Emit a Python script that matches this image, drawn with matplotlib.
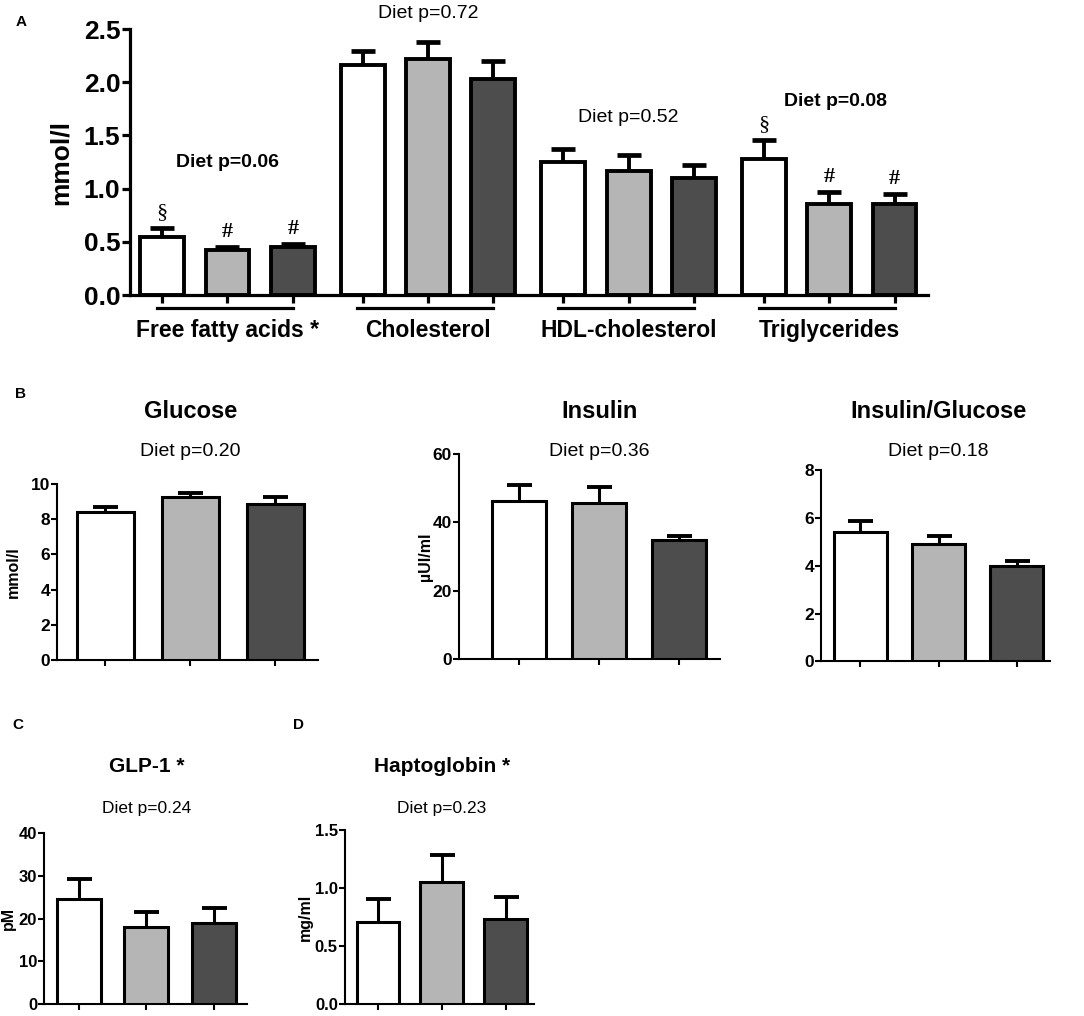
import numpy as np
import matplotlib
matplotlib.use("Agg")
import matplotlib.pyplot as plt
import matplotlib.transforms as mtransforms

plt.rcParams["font.family"] = ["Liberation Sans", "DejaVu Sans"]
SERIF = ["Liberation Serif", "DejaVu Serif"]

colors = ["#ffffff", "#b5b5b5", "#4d4d4d"]

# panel A: lipids (mmol/l), three diets per group
lipid_groups = ["Free fatty acids *", "Cholesterol", "HDL-cholesterol", "Triglycerides"]
lipid_means = [[0.55, 0.42, 0.45],
               [2.16, 2.22, 2.03],
               [1.25, 1.17, 1.10],
               [1.28, 0.86, 0.86]]
lipid_sem = [[0.08, 0.03, 0.03],
             [0.13, 0.16, 0.17],
             [0.12, 0.15, 0.12],
             [0.18, 0.11, 0.09]]
lipid_p = ["Diet p=0.06", "Diet p=0.72", "Diet p=0.52", "Diet p=0.08"]
lipid_p_bold = [True, False, False, True]
lipid_p_y = [1.25, 2.65, 1.67, 1.82]
lipid_marks = [["§", "#", "#"], ["", "", ""], ["", "", ""], ["§", "#", "#"]]

# panel B
glucose_means = [8.4, 9.27, 8.86]
glucose_sem = [0.3, 0.2, 0.42]
insulin_means = [46.2, 45.6, 34.8]
insulin_sem = [4.7, 4.7, 1.2]
ratio_means = [5.4, 4.9, 3.98]
ratio_sem = [0.5, 0.37, 0.24]

# panels C and D
glp1_means = [24.5, 18.0, 18.9]
glp1_sem = [4.9, 3.5, 3.5]
hapto_means = [0.71, 1.05, 0.73]
hapto_sem = [0.2, 0.24, 0.19]

fig = plt.figure(figsize=(10.84, 10.16), dpi=100)


def bars(ax, x, means, sem, lw, capsize, width=0.67):
    ax.bar(x, means, width=width, color=colors, edgecolor="black",
           linewidth=lw, zorder=3)
    eb = ax.errorbar(x, means, yerr=[np.zeros(len(means)), sem], fmt="none",
                     ecolor="black", elinewidth=lw, capsize=capsize,
                     capthick=lw + 0.6, zorder=2)
    eb[1][0].set_visible(False)  # no cap at the bar top


def style(ax, lw, fs):
    for s in ["top", "right"]:
        ax.spines[s].set_visible(False)
    for s in ["left", "bottom"]:
        ax.spines[s].set_linewidth(lw)
    ax.tick_params(width=lw, length=4, labelsize=fs, pad=1)
    for lab in ax.get_yticklabels():
        lab.set_fontweight("bold")
    ax.set_xticklabels([])


# ---- panel A ----
axA = fig.add_axes([0.120, 0.7096, 0.736, 0.2618])
gstep = 3.07
xA = []
for g in range(len(lipid_groups)):
    x = g * gstep + np.arange(3)
    xA.append(x)
    bars(axA, x, lipid_means[g], lipid_sem[g], 2.8, 8.5)
axA.set_xlim(-0.49, 11.72)
axA.set_ylim(0, 2.5)
axA.set_yticks([0, 0.5, 1.0, 1.5, 2.0, 2.5])
axA.set_yticklabels(["0.0", "0.5", "1.0", "1.5", "2.0", "2.5"])
axA.set_xticks(np.concatenate(xA))
style(axA, 2.3, 19)
axA.tick_params(axis="x", length=6)
axA.tick_params(axis="y", length=6)
axA.set_ylabel("mmol/l", fontsize=19, fontweight="bold")
axA.yaxis.set_label_coords(-0.072, 0.5)

trans = mtransforms.blended_transform_factory(axA.transData, axA.transAxes)
for g, x in enumerate(xA):
    axA.plot([x[0] - 0.08, x[2]], [-0.05, -0.05], color="black", lw=2.3,
             transform=trans, clip_on=False)
    axA.text(x[1], -0.135, lipid_groups[g], transform=trans, ha="center",
             va="center", fontsize=16.5, fontweight="bold")
    axA.text(x[1] + (0.1 if g == 3 else 0), lipid_p_y[g], lipid_p[g],
             ha="center", va="center", fontsize=14,
             fontweight="bold" if lipid_p_bold[g] else "normal", clip_on=False)
    for i in range(3):
        m = lipid_marks[g][i]
        if m:
            axA.annotate(m, (x[i], lipid_means[g][i] + lipid_sem[g][i]),
                         xytext=(0, 11), textcoords="offset points",
                         ha="center", va="center", fontsize=16,
                         fontweight="bold" if m == "#" else "normal",
                         family=SERIF)
fig.text(0.014, 0.978, "A", fontsize=11, fontweight="bold", va="center")


# ---- panels B, C, D ----
def small_panel(rect, means, sem, xlim, ylim, yticks, yticklabels, title,
                ptext, ylabel, label_x, title_y, p_y, width, tfs, pfs, tickfs):
    ax = fig.add_axes(rect)
    x = np.arange(3)
    bars(ax, x, means, sem, 2.2, 9, width=width)
    ax.set_xlim(*xlim)
    ax.set_ylim(*ylim)
    ax.set_yticks(yticks)
    ax.set_yticklabels(yticklabels)
    ax.set_xticks(x)
    style(ax, 1.5, tickfs)
    if ylabel:
        ax.set_ylabel(ylabel, fontsize=11.5, fontweight="bold")
        ax.yaxis.set_label_coords(label_x, 0.5)
    xc = rect[0] + rect[2] * (1 - xlim[0]) / (xlim[1] - xlim[0])
    fig.text(xc, title_y, title, ha="center", va="center", fontsize=tfs,
             fontweight="bold")
    fig.text(xc, p_y, ptext, ha="center", va="center", fontsize=pfs)
    return ax


small_panel([0.0526, 0.3504, 0.241, 0.1732], glucose_means, glucose_sem,
            (-0.565, 2.506), (0, 10), [0, 2, 4, 6, 8, 10],
            ["0", "2", "4", "6", "8", "10"], "Glucose", "Diet p=0.20",
            "mmol/l", -0.138, 1 - 412 / 1016, 1 - 452 / 1016, 0.67, 17, 14, 12.5)
small_panel([0.4234, 0.3514, 0.241, 0.2018], insulin_means, insulin_sem,
            (-0.75, 2.51), (0, 60), [0, 20, 40, 60],
            ["0", "20", "40", "60"], "Insulin", "Diet p=0.36",
            "µUI/ml", -0.1, 1 - 412 / 1016, 1 - 452 / 1016, 0.675, 17, 14, 12.5)
small_panel([0.7574, 0.349, 0.211, 0.188], ratio_means, ratio_sem,
            (-0.5, 2.42), (0, 8), [0, 2, 4, 6, 8],
            ["0", "2", "4", "6", "8"], "Insulin/Glucose", "Diet p=0.18",
            None, 0, 1 - 412 / 1016, 1 - 452 / 1016, 0.675, 17, 14, 12.5)
fig.text(0.014, 1 - 394 / 1016, "B", fontsize=11, fontweight="bold", va="center")

small_panel([0.0406, 0.0118, 0.187, 0.168], glp1_means, glp1_sem,
            (-0.52, 2.49), (0, 40), [0, 10, 20, 30, 40],
            ["0", "10", "20", "30", "40"], "GLP-1 *", "Diet p=0.24",
            "pM", -0.138, 1 - 766 / 1016, 1 - 809 / 1016, 0.65, 15, 12.5, 12)
small_panel([0.318, 0.0118, 0.175, 0.171], hapto_means, hapto_sem,
            (-0.52, 2.45), (0, 1.5), [0, 0.5, 1.0, 1.5],
            ["0.0", "0.5", "1.0", "1.5"], "Haptoglobin *", "Diet p=0.23",
            "mg/ml", -0.168, 1 - 766 / 1016, 1 - 809 / 1016, 0.67, 15, 12.5, 12)
fig.text(0.011, 1 - 725 / 1016, "C", fontsize=11, fontweight="bold", va="center")
fig.text(0.270, 1 - 725 / 1016, "D", fontsize=11, fontweight="bold", va="center")

fig.savefig("out.png", dpi=100)
